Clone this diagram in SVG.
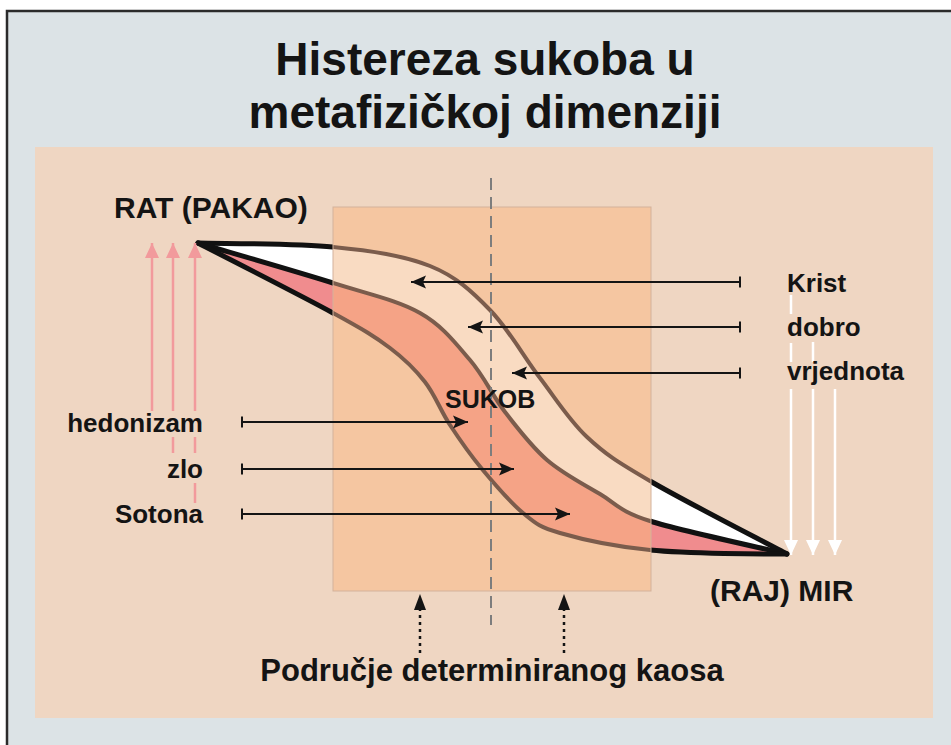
<svg xmlns="http://www.w3.org/2000/svg" width="951" height="745" viewBox="0 0 951 745">
<defs>
<style>
text{font-family:"Liberation Sans",Arial,Helvetica,sans-serif;font-weight:bold;fill:#141414}
.title{font-size:46px;text-anchor:middle}
.pole{font-size:30px}
.lbl{font-size:26px}
.lblL{font-size:26px;text-anchor:end}
.arr{stroke:#141414;stroke-width:2;fill:none}
.pink{stroke:#f29a9c;stroke-width:2.5;fill:none}
.white{stroke:#ffffff;stroke-width:2.5;fill:none}
.edgeOut{fill:none;stroke:#111111;stroke-width:5;stroke-linecap:round;stroke-linejoin:round}
.edgeIn{fill:none;stroke:#7b5c4c;stroke-width:4}
.dot{stroke:#141414;stroke-width:2.5;stroke-dasharray:3 4;fill:none}
</style>
<path id="cT" d="M198,243 C220.5,243.7 294.3,243.2 333,247 C371.7,250.8 403.8,255.5 430,266 C456.2,276.5 471.7,291.3 490,310 C508.3,328.7 523.8,356.8 540,378 C556.2,399.2 568.7,419.8 587,437 C605.3,454.2 616.7,461.5 650,481 C683.3,500.5 764.2,541.8 787,554"/>
<path id="cM" d="M198,243 C220.5,249.7 296,271.3 333,283 C370,294.7 397.2,300.2 420,313 C442.8,325.8 455.8,343.5 470,360 C484.2,376.5 492.2,395.3 505,412 C517.8,428.7 531.2,446.3 547,460 C562.8,473.7 582.8,483.8 600,494 C617.2,504.2 618.8,511 650,521 C681.2,531 764.2,548.5 787,554"/>
<path id="cL" d="M198,243 C220.5,254.7 301,295.5 333,313 C365,330.5 374.7,336.5 390,348 C405.3,359.5 415,369.2 425,382 C435,394.8 440.5,410.5 450,425 C459.5,439.5 469.8,454.3 482,469 C494.2,483.7 510,502.3 523,513 C536,523.7 538.8,526.8 560,533 C581.2,539.2 612.2,546.3 650,550 C687.8,553.7 764.2,554.2 787,554"/>
<path id="bandW" d="M198,243 C220.5,243.7 294.3,243.2 333,247 C371.7,250.8 403.8,255.5 430,266 C456.2,276.5 471.7,291.3 490,310 C508.3,328.7 523.8,356.8 540,378 C556.2,399.2 568.7,419.8 587,437 C605.3,454.2 616.7,461.5 650,481 C683.3,500.5 764.2,541.8 787,554 C764.2,548.5 681.2,531 650,521 C618.8,511 617.2,504.2 600,494 C582.8,483.8 562.8,473.7 547,460 C531.2,446.3 517.8,428.7 505,412 C492.2,395.3 484.2,376.5 470,360 C455.8,343.5 442.8,325.8 420,313 C397.2,300.2 370,294.7 333,283 C296,271.3 220.5,249.7 198,243 Z"/>
<path id="bandP" d="M198,243 C220.5,249.7 296,271.3 333,283 C370,294.7 397.2,300.2 420,313 C442.8,325.8 455.8,343.5 470,360 C484.2,376.5 492.2,395.3 505,412 C517.8,428.7 531.2,446.3 547,460 C562.8,473.7 582.8,483.8 600,494 C617.2,504.2 618.8,511 650,521 C681.2,531 764.2,548.5 787,554 C764.2,554.2 687.8,553.7 650,550 C612.2,546.3 581.2,539.2 560,533 C538.8,526.8 536,523.7 523,513 C510,502.3 494.2,483.7 482,469 C469.8,454.3 459.5,439.5 450,425 C440.5,410.5 435,394.8 425,382 C415,369.2 405.3,359.5 390,348 C374.7,336.5 365,330.5 333,313 C301,295.5 220.5,254.7 198,243 Z"/>
<clipPath id="clipR"><rect x="333" y="207" width="318" height="384"/></clipPath>
<marker id="ah" markerUnits="userSpaceOnUse" markerWidth="16" markerHeight="14" refX="15" refY="6.5" orient="auto" overflow="visible"><path d="M0,0 L15,6.5 L0,13 L3,6.5 Z" fill="#141414"/></marker>
<marker id="tick" markerUnits="userSpaceOnUse" markerWidth="3" markerHeight="12" refX="1" refY="5.5" orient="auto" overflow="visible"><path d="M1,0 V11" stroke="#141414" stroke-width="2"/></marker>
<marker id="ahP" markerUnits="userSpaceOnUse" markerWidth="16" markerHeight="14" refX="15" refY="7" orient="auto" overflow="visible"><path d="M0,0 L15,7 L0,14 Z" fill="#f29a9c"/></marker>
<marker id="ahW" markerUnits="userSpaceOnUse" markerWidth="16" markerHeight="14" refX="15" refY="7" orient="auto" overflow="visible"><path d="M0,0 L15,7 L0,14 Z" fill="#ffffff"/></marker>
<marker id="ahD" markerUnits="userSpaceOnUse" markerWidth="16" markerHeight="14" refX="15" refY="6" orient="auto" overflow="visible"><path d="M0,0 L15,6 L0,12 Z" fill="#141414"/></marker>
</defs>

<rect x="0" y="0" width="951" height="745" fill="#ffffff"/>
<rect id="frame" x="7" y="11" width="950" height="740" fill="#dce3e6" stroke="#2b2b2b" stroke-width="2.5"/>
<rect id="field" x="35" y="147" width="898" height="571" fill="#efd6c2"/>

<g id="title">
<text class="title" x="485" y="75">Histereza sukoba u</text>
<text class="title" x="485" y="128">metafizičkoj dimenziji</text>
</g>

<g id="hysteresis">
<use href="#bandW" fill="#ffffff"/>
<use href="#bandP" fill="#f08c8e"/>
<use href="#cT" class="edgeOut"/>
<use href="#cM" class="edgeOut"/>
<use href="#cL" class="edgeOut"/>
</g>

<g id="chaos-zone">
<g clip-path="url(#clipR)">
<rect x="333" y="207" width="318" height="384" fill="#f5c6a1"/>
<use href="#bandW" fill="#f9dbc2"/>
<use href="#bandP" fill="#f5a386"/>
<use href="#cT" class="edgeIn"/>
<use href="#cM" class="edgeIn"/>
<use href="#cL" class="edgeIn"/>
</g>
<rect x="333" y="207" width="318" height="384" fill="none" stroke="#d3b29b" stroke-width="1"/>
</g>

<g id="connectors">
<line x1="491" y1="178" x2="491" y2="625" stroke="#7d7d7d" stroke-width="2" stroke-dasharray="12 7"/>
<path class="pink" d="M152,411 V243" marker-end="url(#ahP)"/>
<path class="pink" d="M173,411 V243" marker-end="url(#ahP)"/>
<path class="pink" d="M173,453 V437"/>
<path class="pink" d="M195,411 V243" marker-end="url(#ahP)"/>
<path class="pink" d="M195,453 V437 M195,503 V483"/>
<path class="white" d="M791,389 V555" marker-end="url(#ahW)"/>
<path class="white" d="M791,295 V314 M791,343 V362"/>
<path class="white" d="M813,389 V555" marker-end="url(#ahW)"/>
<path class="white" d="M813,342 V362"/>
<path class="white" d="M835,389 V555" marker-end="url(#ahW)"/>
<path class="arr" d="M740,282 H411" marker-start="url(#tick)" marker-end="url(#ah)"/>
<path class="arr" d="M740,327 H468" marker-start="url(#tick)" marker-end="url(#ah)"/>
<path class="arr" d="M740,373 H512" marker-start="url(#tick)" marker-end="url(#ah)"/>
<path class="arr" d="M242,422 H468" marker-start="url(#tick)" marker-end="url(#ah)"/>
<path class="arr" d="M242,469 H514" marker-start="url(#tick)" marker-end="url(#ah)"/>
<path class="arr" d="M242,514 H570" marker-start="url(#tick)" marker-end="url(#ah)"/>
<path class="dot" d="M420,653 V606"/>
<path d="M420,594 L426,610 L414,610 Z" fill="#141414"/>
<path class="dot" d="M564,653 V606"/>
<path d="M564,594 L570,610 L558,610 Z" fill="#141414"/>
</g>

<g id="node-rat"><text class="pole" x="114" y="218">RAT (PAKAO)</text></g>
<g id="node-mir"><text class="pole" x="710" y="601">(RAJ) MIR</text></g>
<g id="node-sukob"><text x="445" y="408" style="font-size:25px">SUKOB</text></g>
<g id="node-zone"><text x="492" y="681" style="font-size:31px;text-anchor:middle">Područje determiniranog kaosa</text></g>
<g id="node-krist"><text class="lbl" x="787" y="292">Krist</text></g>
<g id="node-dobro"><text class="lbl" x="787" y="336">dobro</text></g>
<g id="node-vrjednota"><text class="lbl" x="787" y="380">vrjednota</text></g>
<g id="node-hedonizam"><text class="lblL" x="203" y="432">hedonizam</text></g>
<g id="node-zlo"><text class="lblL" x="203" y="478">zlo</text></g>
<g id="node-sotona"><text class="lblL" x="203" y="523">Sotona</text></g>
</svg>
